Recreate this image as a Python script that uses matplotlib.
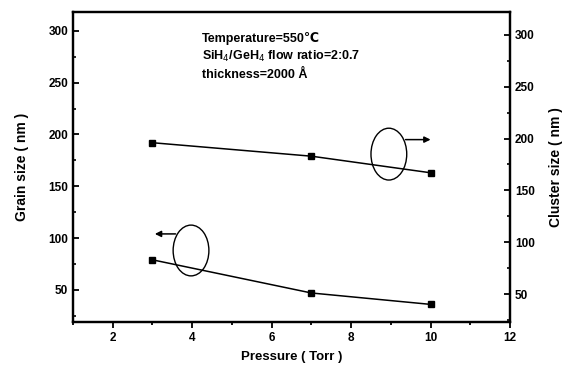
import matplotlib.pyplot as plt
from matplotlib.patches import Ellipse
from matplotlib.ticker import MultipleLocator

plt.rcParams['font.family'] = ['Liberation Sans', 'DejaVu Sans']

# Pressure (Torr)
pressure = [3, 7, 10]
# Grain size (nm), left axis
grain_size = [79, 47, 36]
# Cluster size (nm), right axis
cluster_size = [196, 183, 167]

x_ticks = [2, 4, 6, 8, 10, 12]
y_ticks = [50, 100, 150, 200, 250, 300]

fig = plt.figure(figsize=(5.75, 3.68), dpi=100)
ax = fig.add_axes([0.127, 0.125, 0.760, 0.842])
ax2 = ax.twinx()

ax.plot(pressure, grain_size, color='black', lw=1.1, marker='s', ms=4.5)
ax2.plot(pressure, cluster_size, color='black', lw=1.1, marker='s', ms=4.5)

ax.set_xlim(1, 12)
ax.set_ylim(19, 318)
ax2.set_ylim(23, 322)

ax.set_xticks(x_ticks)
ax.xaxis.set_minor_locator(MultipleLocator(1))
for a in (ax, ax2):
    a.set_yticks(y_ticks)
    a.yaxis.set_minor_locator(MultipleLocator(25))
    for s in a.spines.values():
        s.set_linewidth(1.6)

ax.tick_params(axis='x', which='both', direction='out', width=1.3)
ax.tick_params(axis='x', which='major', length=4)
ax.tick_params(axis='x', which='minor', length=2.5)
for a in (ax, ax2):
    a.tick_params(axis='y', which='major', direction='in', length=4, width=1.3)
    a.tick_params(axis='y', which='minor', direction='in', length=2.5, width=1.2)

for lab in ax.get_xticklabels() + ax.get_yticklabels() + ax2.get_yticklabels():
    lab.set_fontsize(8.5)
    lab.set_fontweight('bold')

ax.set_xlabel('Pressure ( Torr )', fontsize=9.5, fontweight='bold', labelpad=5)
ax.set_ylabel('Grain size ( nm )', fontsize=10, fontweight='bold', labelpad=14)
ax2.set_ylabel('Cluster size ( nm )', fontsize=10, fontweight='bold', labelpad=10)

# process conditions
ax.text(4.25, 293, 'Temperature=550\u2103', fontsize=9, fontweight='bold', va='center')
ax.text(4.25, 275, 'SiH$_4$/GeH$_4$ flow ratio=2:0.7', fontsize=9, fontweight='bold', va='center')
ax.text(4.25, 257, 'thickness=2000 \u00c5', fontsize=9, fontweight='bold', va='center')

# ellipses with arrows pointing to the matching axis
arrow = dict(arrowstyle='-|>', color='black', lw=1.1, mutation_scale=9,
             shrinkA=0, shrinkB=0)
ax.add_patch(Ellipse((8.95, 181), 0.9, 50, fill=False, lw=1.0, color='black'))
ax.annotate('', xy=(10.0, 195), xytext=(9.37, 195), arrowprops=arrow)
ax.add_patch(Ellipse((3.97, 88), 0.9, 49, fill=False, lw=1.0, color='black'))
ax.annotate('', xy=(3.06, 104), xytext=(3.58, 104), arrowprops=arrow)

fig.savefig('out.png', dpi=100)
